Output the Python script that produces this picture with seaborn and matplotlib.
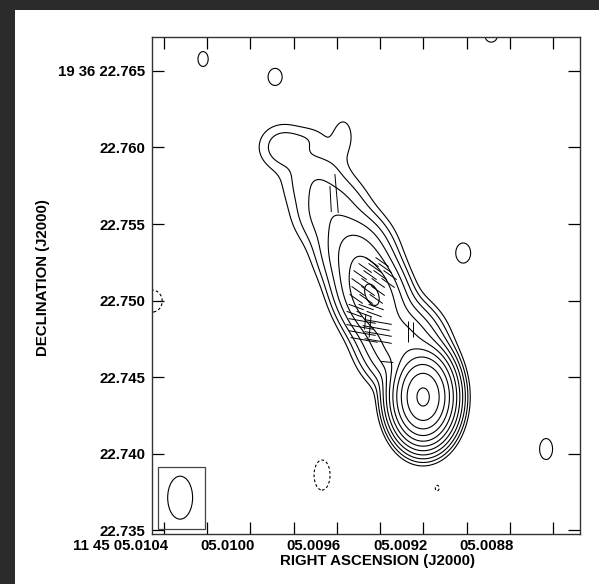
import numpy as np
import matplotlib
matplotlib.use("Agg")
import matplotlib.pyplot as plt
import seaborn as sns
from matplotlib.patches import Ellipse, Rectangle
from matplotlib.collections import LineCollection
from matplotlib.transforms import ScaledTranslation

sns.set_theme(style="white")
plt.rcParams['font.family'] = ['Liberation Sans', 'DejaVu Sans']
plt.rcParams['font.weight'] = 'bold'

# ---------------- data ----------------
# map centre (core) : RA 11h45m + seconds, Dec +19d36' + arcsec
core_ra_s = 5.0092009
core_dec_as = 22.7436928
dec_deg = 19.6

# source model components, offsets from core in mas (east, north)
comp_east = [0.0, 1.37, 3.35, 4.45, 6.08, 7.19, 9.16, 7.26, 5.23]
comp_north = [0.0, 3.40, 6.67, 9.61, 12.22, 14.51, 16.34, 16.93, 17.12]
comp_amp = [1155, 42, 68, 16, 6.0, 2.6, 3.0, 1.0, 1.5]
comp_sig_major = [1.20, 1.31, 1.60, 1.31, 1.31, 1.05, 0.98, 0.59, 0.92]
comp_sig_minor = [0.82, 1.20, 1.02, 1.20, 1.35, 1.35, 1.05, 0.85, 0.52]
comp_pa = [0, 25, 22, 30, 30, 30, 0, 0, 0]

# isolated noise peaks (positive and negative)
noise_east = [14.39, 9.68, -2.62, -8.04, -4.45, 6.61, 17.72, -0.92]
noise_north = [22.09, 20.92, 9.41, -3.40, 23.59, -5.10, 6.27, -5.95]
noise_amp = [1.5, 1.5, 1.5, 1.5, 1.5, -1.5, -1.5, -1.06]
noise_sig_major = [0.54, 0.62, 0.73, 0.76, 0.44, 1.09, 0.80, 0.55]
noise_sig_minor = [0.37, 0.51, 0.54, 0.47, 0.44, 0.58, 0.73, 0.38]

contour_levels = [-1, 1, 2, 4, 8, 16, 32, 64, 128, 256, 512, 1024]

# polarization vectors: offsets (mas), length (mas), position angle (deg)
vec_east = [3.34, 2.68, 3.79, 3.14, 2.49, 4.12, 3.47, 2.81, 2.16, 4.25, 3.60, 2.94, 2.29,
            4.25, 3.60, 2.94, 4.38, 3.73, 3.07,
            4.38, 3.73, 3.07, 4.51, 3.86, 3.20,
            3.99, 2.94, 4.12, 3.07, 3.99, 2.94, 3.86, 2.94,
            3.47, 3.79, 2.35, 5.66, 6.05, 1.01, 0.69]
vec_north = [8.82, 8.82, 8.43, 8.43, 8.43, 7.97, 7.97, 7.97, 7.97, 7.45, 7.45, 7.45, 7.45,
             6.93, 6.93, 6.93, 6.41, 6.41, 6.41,
             5.88, 5.88, 5.88, 5.42, 5.42, 5.42,
             4.97, 4.90, 4.58, 4.51, 4.18, 4.12, 3.73, 3.66,
             4.58, 4.90, 2.29, 13.30, 12.94, 4.25, 4.38]
vec_len = [1.05, 1.05, 1.05, 1.05, 1.05, 1.05, 1.05, 1.05, 1.05, 1.05, 1.05, 1.05, 1.05,
           1.05, 1.05, 1.05, 1.05, 1.05, 1.05,
           1.05, 1.05, 1.05, 1.05, 1.05, 1.05,
           1.80, 1.80, 1.80, 1.80, 1.80, 1.80, 1.80, 1.80,
           1.40, 1.00, 0.80, 2.55, 1.70, 1.37, 0.98]
vec_pa = [55, 55, 55, 55, 55, 55, 55, 55, 55, 55, 55, 55, 55,
          55, 55, 55, 55, 55, 55,
          70, 70, 70, 70, 70, 70,
          80, 80, 80, 80, 80, 80, 80, 80,
          175, 175, 85, 5, 3, 0, 0]

# restoring beam (mas, deg) and its box (mas offsets)
beam_major, beam_minor, beam_pa = 2.81, 1.63, 0
beam_east, beam_north = 15.89, -6.58
box_east = [14.26, 17.35]
box_north = [-8.63, -4.56]

ra_ticks = [5.0104, 5.0102, 5.0100, 5.0098, 5.0096, 5.0094, 5.0092, 5.0090, 5.0088, 5.0086]
ra_labels = ["11 45 05.0104", "", "05.0100", "", "05.0096", "", "05.0092", "", "05.0088", ""]
dec_ticks = [22.765, 22.760, 22.755, 22.750, 22.745, 22.740, 22.735]
dec_labels = ["19 36 22.765", "22.760", "22.755", "22.750", "22.745", "22.740", "22.735"]

ra_lim = (5.0104556, 5.008475)
dec_lim = (22.734739, 22.767222)

# ---------------- helpers ----------------
mas_per_ras = 15000.0 * np.cos(np.radians(dec_deg))


def to_ra(east):
    return core_ra_s + np.asarray(east) / mas_per_ras


def to_dec(north):
    return core_dec_as + np.asarray(north) / 1000.0


def gauss(E, N, e, n, amp, smaj, smin, pa):
    p = np.radians(pa)
    dE, dN = E - e, N - n
    a = dE * np.sin(p) + dN * np.cos(p)
    b = dE * np.cos(p) - dN * np.sin(p)
    return amp * np.exp(-0.5 * (a ** 2 / smaj ** 2 + b ** 2 / smin ** 2))


E, N = np.meshgrid(np.arange(-11.5, 19.0, 0.04), np.arange(-10.0, 24.8, 0.04))
field = np.zeros_like(E)
for i in range(len(comp_amp)):
    field += gauss(E, N, comp_east[i], comp_north[i], comp_amp[i],
                   comp_sig_major[i], comp_sig_minor[i], comp_pa[i])
for i in range(len(noise_amp)):
    field += gauss(E, N, noise_east[i], noise_north[i], noise_amp[i],
                   noise_sig_major[i], noise_sig_minor[i], 0)

RA, DEC = to_ra(E), to_dec(N)

# ---------------- figure ----------------
W, H = 599, 584
fig = plt.figure(figsize=(W / 100, H / 100), dpi=100)
fig.patch.set_facecolor('#2b2b2b')
fig.add_artist(Rectangle((15 / W, 0), (W - 15) / W, (H - 10) / H,
                         transform=fig.transFigure, facecolor='white',
                         edgecolor='none', zorder=-5))

ax = fig.add_axes([152 / W, (H - 534) / H, 428 / W, 497 / H])
ax.set_facecolor('white')

styles = [(0, (2.5, 2)) if l < 0 else 'solid' for l in contour_levels]
ax.contour(RA, DEC, field, levels=contour_levels, colors='black',
           linewidths=0.8, linestyles=styles)

# polarization vectors
segs = []
for e, n, L, pa in zip(vec_east, vec_north, vec_len, vec_pa):
    p = np.radians(pa)
    de, dn = 0.5 * L * np.sin(p), 0.5 * L * np.cos(p)
    segs.append([(to_ra(e - de), to_dec(n - dn)), (to_ra(e + de), to_dec(n + dn))])
ax.add_collection(LineCollection(segs, colors='black', linewidths=0.7))

# beam
ax.add_patch(Ellipse((to_ra(beam_east), to_dec(beam_north)),
                     width=beam_minor / mas_per_ras, height=beam_major / 1000.0,
                     angle=beam_pa, facecolor='none', edgecolor='black', lw=0.8))
ax.add_patch(Rectangle((to_ra(box_east[0]), to_dec(box_north[0])),
                       (box_east[1] - box_east[0]) / mas_per_ras,
                       (box_north[1] - box_north[0]) / 1000.0,
                       facecolor='none', edgecolor='#444444', lw=0.9))

ax.set_xlim(*ra_lim)
ax.set_ylim(*dec_lim)
ax.set_xticks(ra_ticks)
ax.set_xticklabels(ra_labels)
ax.set_yticks(dec_ticks)
ax.set_yticklabels(dec_labels)
ax.tick_params(axis='both', direction='in', length=8.6, width=0.9, color='black',
               top=True, right=True, bottom=True, left=True,
               labelsize=10.8, labelcolor='black')
ax.tick_params(axis='x', pad=3.5)
ax.tick_params(axis='y', pad=5)
for lab in ax.get_xticklabels():
    lab.set_ha('right')
    lab.set_fontweight('bold')
    lab.set_transform(lab.get_transform() + ScaledTranslation(4 / 100, 0, fig.dpi_scale_trans))
for lab in ax.get_yticklabels():
    lab.set_fontweight('bold')
for s in ax.spines.values():
    s.set_color('#333333')
    s.set_linewidth(1.0)

fig.text(377.5 / W, 1 - 561 / H, "RIGHT ASCENSION (J2000)", ha='center', va='center',
         fontsize=10.8, fontweight='bold', color='black')
fig.text(43 / W, 1 - 277.5 / H, "DECLINATION (J2000)", ha='center', va='center',
         rotation=90, fontsize=10.8, fontweight='bold', color='black')

fig.savefig("out.png", dpi=100, facecolor=fig.get_facecolor())
